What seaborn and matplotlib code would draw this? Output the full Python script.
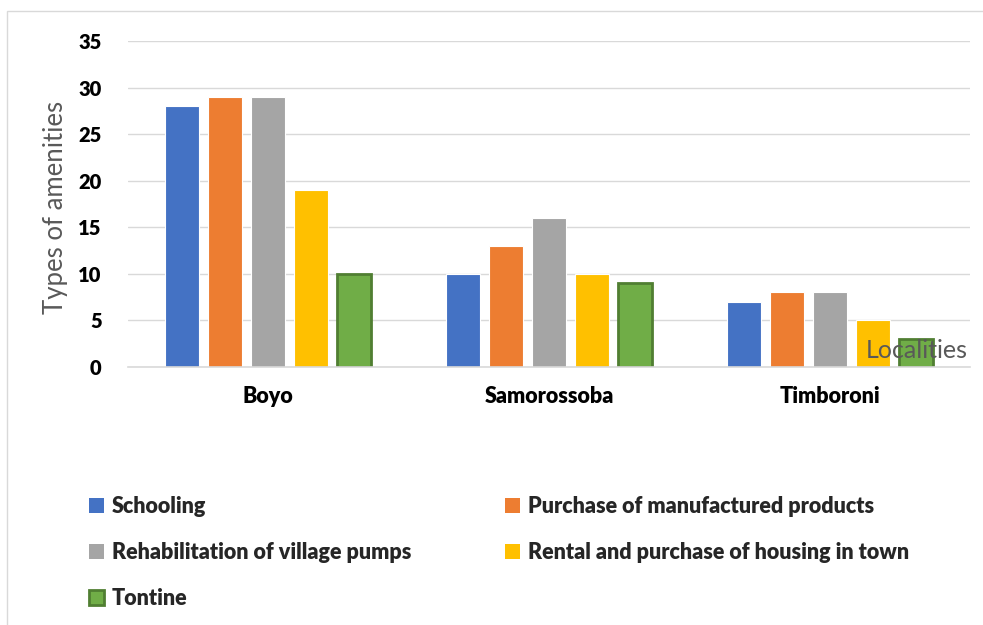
import matplotlib
matplotlib.use("Agg")
import matplotlib.pyplot as plt
import matplotlib.patches as mpatches
import pandas as pd
import seaborn as sns

# ---- Data ----
localities = ["Boyo", "Samorossoba", "Timboroni"]
series = [
    "Schooling",
    "Purchase of manufactured products",
    "Rehabilitation of village pumps",
    "Rental and purchase of housing in town",
    "Tontine",
]
schooling = [28, 10, 7]
purchase = [29, 13, 8]
rehabilitation = [29, 16, 8]
rental = [19, 10, 5]
tontine = [10, 9, 3]
yticks = [0, 5, 10, 15, 20, 25, 30, 35]

colors = ["#4472C4", "#ED7D31", "#A5A5A5", "#FFC000", "#70AD47"]

values = [schooling, purchase, rehabilitation, rental, tontine]
df = pd.DataFrame(
    [(loc, s, v[i]) for s, v in zip(series, values) for i, loc in enumerate(localities)],
    columns=["Locality", "Amenity", "Count"],
)

sns.set_theme(style="white")
plt.rcParams["font.family"] = ["Lato", "DejaVu Sans"]

fig = plt.figure(figsize=(9.83, 6.25), dpi=100)
ax = fig.add_axes([128 / 983, 1 - 367 / 625, (970 - 128) / 983, (367 - 41) / 625])

sns.barplot(
    data=df, x="Locality", y="Count", hue="Amenity",
    hue_order=series, order=localities, palette=colors, saturation=1,
    width=0.766, gap=0.21, ax=ax, legend=False,
    edgecolor="white", linewidth=0.8,
)

# tontine bars get the darker green outline
for bar in ax.containers[4]:
    bar.set_edgecolor("#507E32")
    bar.set_linewidth(2)

ax.set_xlim(-0.5, 2.5)
ax.set_ylim(0, 35)
ax.set_yticks(yticks)
ax.yaxis.grid(True, color="#D9D9D9", linewidth=1)
ax.set_axisbelow(True)
for side in ["left", "right", "top"]:
    ax.spines[side].set_visible(False)
ax.spines["bottom"].set_color("#D9D9D9")
ax.spines["bottom"].set_linewidth(1.2)
ax.tick_params(axis="both", length=0)
ax.tick_params(axis="y", pad=19, labelsize=14.5)
ax.tick_params(axis="x", pad=14, labelsize=15.5)
for lab in ax.get_xticklabels() + ax.get_yticklabels():
    lab.set_fontweight("heavy")
    lab.set_color("black")
ax.set_xlabel("")
ax.set_ylabel("Types of amenities", fontsize=18.5, color="#595959")
ax.yaxis.set_label_coords(-0.0713, 0.488)

fig.text(866 / 983, 1 - 351 / 625, "Localities", fontsize=18, color="#595959",
         va="center", ha="left")

# legend, row-major order like the reference
order = [0, 2, 4, 1, 3]
handles = []
for i in order:
    if i == 4:
        h = mpatches.Patch(facecolor=colors[i], edgecolor="#507E32", linewidth=2)
    else:
        h = mpatches.Patch(facecolor=colors[i], edgecolor="none")
    handles.append(h)
fig.legend(
    handles, [series[i] for i in order], ncol=2, frameon=False,
    loc="upper left", bbox_to_anchor=(70 / 983, 1 - 477 / 625),
    prop={"weight": "heavy", "size": 15.5}, handlelength=0.7, handleheight=0.7,
    handletextpad=0.35, labelspacing=1.15, columnspacing=4.35,
)

# light frame around the chart
fig.patches.append(mpatches.Rectangle(
    (7 / 983, -0.05), 1.1, 1 - 11 / 625 + 0.05, transform=fig.transFigure,
    fill=False, edgecolor="#D9D9D9", linewidth=1,
))

fig.savefig("out.png", dpi=100)
